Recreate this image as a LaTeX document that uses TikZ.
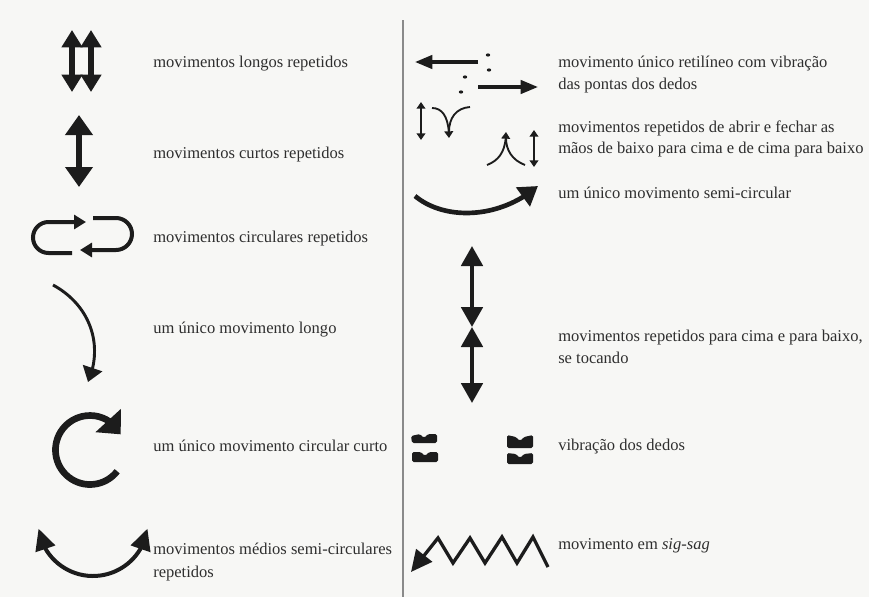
\documentclass[tikz,border=0pt]{standalone}
\usepackage{fontspec}
\setmainfont{Liberation Serif}
\usetikzlibrary{arrows.meta,bending}
\definecolor{ink}{HTML}{1C1C1C}
\definecolor{txt}{HTML}{2E2E2E}
\definecolor{paper}{HTML}{F7F7F5}
\definecolor{rulec}{HTML}{8A8A8A}
\begin{document}
\begin{tikzpicture}[x=0.75pt,y=0.75pt,
  lbl/.style={anchor=base west, inner sep=0pt, text=txt, font=\fontsize{12.4}{14}\selectfont},
  heavy/.style={draw=ink, line width=4pt},
  medium/.style={draw=ink, line width=3pt},
  thin/.style={draw=ink, line width=1.4pt},
  vblock/.style={fill=ink, rounded corners=1.2pt},
]
\fill[paper] (0,0) rectangle (869,-597);
\useasboundingbox (0,0) rectangle (869,-597);
\draw[rulec, line width=1.5pt] (403,-20) -- (403,-597);

% ---------- left column ----------
% long repeated
\draw[heavy, {Triangle[length=13pt,width=15pt]}-{Triangle[length=13pt,width=15pt]}] (72,-30) -- (72,-92);
\draw[heavy, {Triangle[length=13pt,width=15pt]}-{Triangle[length=13pt,width=15pt]}] (91,-30) -- (91,-92);
\node[lbl] (t1) at (153,-67) {movimentos longos repetidos};

% short repeated
\draw[heavy, {Triangle[length=15pt,width=20pt]}-{Triangle[length=15pt,width=20pt]}] (79,-115) -- (79,-187);
\node[lbl] (t2) at (153,-158) {movimentos curtos repetidos};

% circular repeated
\draw[medium, -{Triangle[length=9pt,width=10.5pt]}] (72,-253) -- (48.5,-253) arc[start angle=270, end angle=90, radius=15.5] -- (86,-222);
\draw[medium, -{Triangle[length=9pt,width=10.5pt]}] (93,-218) -- (116,-218) arc[start angle=90, end angle=-90, radius=16] -- (80,-250);
\node[lbl] (t3) at (153,-242) {movimentos circulares repetidos};

% single long
\draw[draw=ink, line width=2.2pt, -{Triangle[length=11pt,width=15pt,flex]}] (53,-285) .. controls (90,-305) and (104,-345) .. (88,-382);
\node[lbl] (t4) at (153,-333) {um único movimento longo};

% single short circular
\draw[draw=ink, line width=5pt, -{Triangle[length=14pt,width=25pt,flex]}] (90,-450) ++(-38:34.5) arc[start angle=-38, end angle=-333, radius=34.5];
\node[lbl] (t5) at (153,-451) {um único movimento circular curto};

% medium semicircular repeated
\draw[medium, {Triangle[length=16pt,width=15pt,flex]}-{Triangle[length=16pt,width=15pt,flex]}] (93,-521) ++(188:55) arc[start angle=188, end angle=352, radius=55];
\node[lbl] (t6a) at (153,-554) {movimentos médios semi-circulares};
\node[lbl] (t6b) at (153,-577) {repetidos};

% ---------- right column ----------
% straight with fingertip vibration
\draw[draw=ink, line width=2.5pt, -{Triangle[length=13pt,width=10pt]}] (478,-62) -- (415,-62);
\draw[draw=ink, line width=2.5pt, -{Triangle[length=13pt,width=10pt]}] (478,-87) -- (538,-87);
\foreach \px/\py in {488/55, 489/70, 465/77, 461/92}{
  \fill[ink] (\px,-\py) ellipse[x radius=2.2, y radius=1.6];
}
\node[lbl] (t7a) at (558,-67) {movimento único retilíneo com vibração};
\node[lbl] (t7b) at (558,-89) {das pontas dos dedos};

% open/close hands
\draw[thin, {Triangle[length=5pt,width=6.5pt]}-{Triangle[length=5pt,width=6.5pt]}] (421,-102) -- (421,-140);
\draw[thin, -{Triangle[length=5pt,width=6.5pt]}] (432,-108) .. controls (443,-108) and (449,-118) .. (449,-138);
\draw[thin] (470,-107) .. controls (456,-108) and (449,-118) .. (449,-132);
\draw[thin, -{Triangle[length=5pt,width=6.5pt]}] (487,-165) .. controls (500,-160) and (506,-150) .. (506,-132);
\draw[thin] (525,-165) .. controls (512,-160) and (506,-150) .. (506,-138);
\draw[thin, {Triangle[length=5pt,width=6.5pt]}-{Triangle[length=5pt,width=6.5pt]}] (534,-130) -- (534,-167);
\node[lbl] (t8a) at (558,-132) {movimentos repetidos de abrir e fechar as};
\node[lbl] (t8b) at (558,-153) {mãos de baixo para cima e de cima para baixo};

% single semicircular
\draw[draw=ink, line width=3.5pt, -{Triangle[length=14pt,width=17pt,flex]}] (415,-196) .. controls (445,-221) and (500,-219) .. (538,-186);
\node[lbl] (t9) at (558,-198) {um único movimento semi-circular};

% up and down touching
\draw[medium, {Triangle[length=15pt,width=16pt]}-{Triangle[length=15pt,width=16pt]}] (472,-246) -- (472,-327);
\draw[medium, {Triangle[length=15pt,width=16pt]}-{Triangle[length=15pt,width=16pt]}] (472,-327) -- (472,-403);
\node[lbl] (t10a) at (558,-341) {movimentos repetidos para cima e para baixo,};
\node[lbl] (t10b) at (558,-363) {se tocando};

% finger vibration
\fill[vblock] (411,-436) -- (420,-434) -- (424,-438) -- (428,-434) -- (437,-434) -- (437,-443) -- (412,-443) -- cycle;
\fill[vblock] (412,-452) -- (421,-452) -- (425,-456) -- (429,-452) -- (438,-452) -- (438,-462) -- (412,-462) -- cycle;
\fill[vblock] (507,-435) -- (516,-437) -- (520,-441) -- (524,-437) -- (533,-435) -- (533,-448) -- (507,-448) -- cycle;
\fill[vblock] (507,-453) -- (516,-454) -- (520,-458) -- (524,-454) -- (533,-453) -- (533,-464) -- (507,-464) -- cycle;
\node[lbl] (t11) at (558,-450) {vibração dos dedos};

% zig-zag
\draw[draw=ink, line width=2.5pt, line join=miter, -{Triangle[length=16pt,width=15pt]}] (548,-567) -- (533,-537) -- (517,-563) -- (502,-537) -- (485,-563) -- (470,-538) -- (453,-563) -- (438,-538) -- (411,-572);
\node[lbl] (t12) at (558,-549) {movimento em \textit{sig-sag}};
\end{tikzpicture}
\end{document}
